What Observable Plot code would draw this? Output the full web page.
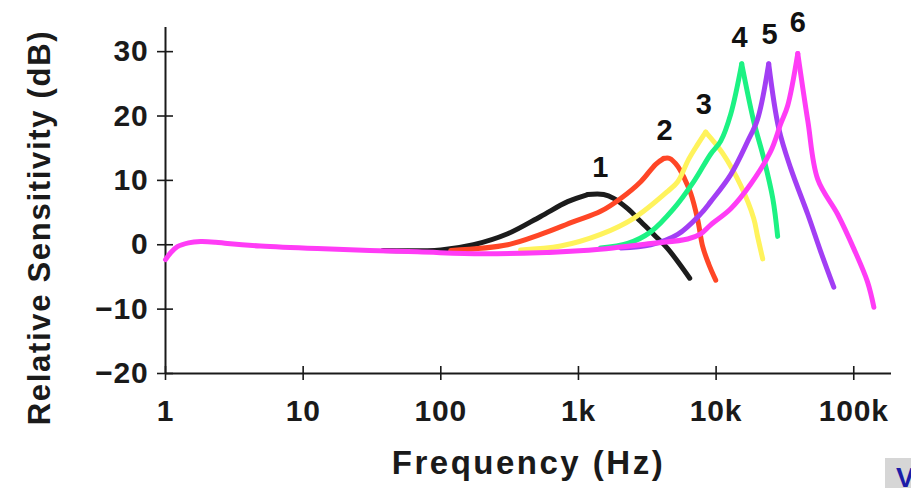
<!DOCTYPE html>
<html>
<head>
<meta charset="utf-8">
<script src="https://cdn.jsdelivr.net/npm/d3@7"></script>
<script src="https://cdn.jsdelivr.net/npm/@observablehq/plot@0.6"></script>
<style>
  html, body { margin: 0; padding: 0; background: #fff; }
  #wrap { position: relative; width: 911px; height: 488px; overflow: hidden; }
  #corner { position: absolute; left: 885px; top: 458px; width: 26px; height: 30px; background: #d6d6d6; overflow: hidden; }
  #corner span { position: absolute; left: 11px; top: 4px; font: bold 28px "Liberation Sans", Arial, sans-serif; color: #1c1ca8; }
</style>
</head>
<body>
<div id="wrap"><div id="corner"><span>V</span></div></div>
<script>
// Axis ticks
const xTickValues = [1, 10, 100, 1000, 10000, 100000];
const xTickLabels = ["1", "10", "100", "1k", "10k", "100k"];
const yTickValues = [30, 20, 10, 0, -10, -20];
const yTickLabels = ["30", "20", "10", "0", "−10", "−20"];

// Series names and colours
const seriesNames = ["1", "2", "3", "4", "5", "6"];
const seriesColors = ["#1c1c1c", "#ff4626", "#fff35c", "#1cf283", "#a23ef4", "#ff3cf6"];

// Frequency (Hz) and relative sensitivity (dB) per curve
const freq1 = [38, 100, 173, 306, 531, 835, 1167, 1525, 1803, 2279, 2833, 3523, 4449, 6431];
const db1   = [-0.9, -0.8, 0.0, 1.7, 4.4, 6.7, 7.8, 7.8, 7.2, 5.6, 3.6, 1.6, -0.6, -5.2];

const freq2 = [118, 306, 531, 923, 1449, 2027, 2833, 3640, 4159, 4600, 5260, 5915, 6539, 7350, 7995, 8840, 9935];
const db2   = [-0.9, 0.0, 1.6, 3.6, 5.2, 7.2, 9.8, 12.5, 13.4, 13.4, 12.2, 10.2, 8.0, 3.9, -0.3, -3.0, -5.5];

const freq3 = [380, 742, 1449, 2518, 4449, 5260, 6325, 7350, 8400, 11170, 15100, 18750, 20000, 21800];
const db3   = [-0.8, -0.2, 1.6, 4.1, 8.3, 9.8, 13.3, 15.6, 17.5, 14.2, 9.2, 4.1, 1.3, -2.2];

const freq4 = [1449, 2279, 3350, 4920, 6875, 9140, 10800, 12770, 15350, 18750, 22200, 25800, 28000];
const db4   = [-0.5, 0.2, 2.0, 5.6, 9.8, 14.1, 16.1, 20.3, 28.1, 19.2, 13.4, 7.2, 1.3];

const freq5 = [2027, 3350, 5260, 7730, 9140, 12770, 16980, 20000, 24100, 28500, 34800, 46400, 57600, 71600];
const db5   = [-0.5, 0.0, 1.6, 4.8, 6.7, 10.9, 16.1, 19.5, 28.1, 18.1, 11.9, 4.7, -1.1, -6.6];

const freq6 = [1, 1.09, 1.22, 1.47, 1.8, 2.31, 2.82, 4.9, 12.7, 68, 205, 1091, 3350, 6220, 7730, 9140, 12770, 17800, 24900, 29500, 33100, 39200, 46400, 54700, 76500, 100000, 126000, 140000];
const db6   = [-2.3, -1.25, -0.3, 0.3, 0.5, 0.4, 0.2, -0.2, -0.6, -1.1, -1.4, -0.9, 0.2, 0.9, 1.7, 3.1, 5.6, 9.4, 14.5, 18.8, 21.6, 29.7, 19.2, 10.2, 4.7, -0.6, -5.8, -9.7];

// Curve number labels (position in data units)
const labelFreq = [1449, 4230, 8130, 14800, 24500, 39200];
const labelDb   = [12.0, 17.7, 21.7, 32.2, 32.7, 34.5];

const freqs = [freq1, freq2, freq3, freq4, freq5, freq6];
const dbs = [db1, db2, db3, db4, db5, db6];

// Split each curve at its peak into a rising and a falling part (keeps the sharp peak)
const curves = seriesNames.map((name, k) => {
  const f = freqs[k], v = dbs[k];
  const peak = v.indexOf(Math.max(...v));
  const rows = [];
  f.forEach((fr, i) => {
    if (i <= peak) rows.push({series: name, part: "rise", f: fr, db: v[i]});
    if (i >= peak) rows.push({series: name, part: "fall", f: fr, db: v[i]});
  });
  return rows;
});
const labels = seriesNames.map((name, i) => ({name, f: labelFreq[i], db: labelDb[i]}));

const font = "'Liberation Sans', Arial, Helvetica, sans-serif";

const chart = Plot.plot({
  width: 911,
  height: 488,
  marginLeft: 165,
  marginRight: 20,
  marginTop: 27,
  marginBottom: 115,
  style: {fontFamily: font, background: "transparent", color: "#1a1a1a", overflow: "visible"},
  x: {type: "log", domain: [1, 188000]},
  y: {domain: [-20, 33.75]},
  marks: [
    Plot.ruleX([1], {stroke: "#1a1a1a", strokeWidth: 2}),
    Plot.ruleY([-20], {stroke: "#1a1a1a", strokeWidth: 2}),
    Plot.axisX({
      ticks: xTickValues,
      tickFormat: (d) => xTickLabels[xTickValues.indexOf(d)],
      tickSize: 14, dy: -7, tickPadding: 19,
      strokeWidth: 1.6, fontSize: 30, fontWeight: "bold",
      label: null
    }),
    Plot.axisX({ticks: [], tickSize: 0, label: "Frequency (Hz)", labelAnchor: "center", labelArrow: "none", labelOffset: 100, fontSize: 33, fontWeight: "bold"}),
    Plot.axisY({
      ticks: yTickValues,
      tickFormat: (d) => yTickLabels[yTickValues.indexOf(d)],
      tickSize: 16, dx: 8, tickPadding: 9,
      strokeWidth: 1.6, fontSize: 30, fontWeight: "bold",
      label: null
    }),
    Plot.text(["Relative Sensitivity (dB)"], {frameAnchor: "left", textAnchor: "middle", rotate: -90, dx: -125, dy: 27, fontSize: 31, fontWeight: "bold"}),
    ...curves.map((data, k) => Plot.line(data, {
      x: "f", y: "db", z: "part",
      stroke: seriesColors[k], strokeWidth: 5,
      strokeLinejoin: "round", strokeLinecap: "round",
      curve: "catmull-rom"
    })),
    Plot.text(labels, {x: "f", y: "db", text: "name", fontSize: 29, fontWeight: "bold", fill: "#111"})
  ]
});

const svg = d3.select(chart);
svg.selectAll("text").each(function () {
  const t = this.textContent;
  if (t === "Relative Sensitivity (dB)") d3.select(this).style("letter-spacing", "1.7px");
  else if (t === "Frequency (Hz)") d3.select(this).style("letter-spacing", "2.5px");
  else if (xTickLabels.includes(t) || yTickLabels.includes(t)) d3.select(this).style("letter-spacing", "0.8px");
});

document.getElementById("wrap").prepend(chart);
chart.style.position = "absolute";
chart.style.left = "0px";
chart.style.top = "0px";
</script>
</body>
</html>
